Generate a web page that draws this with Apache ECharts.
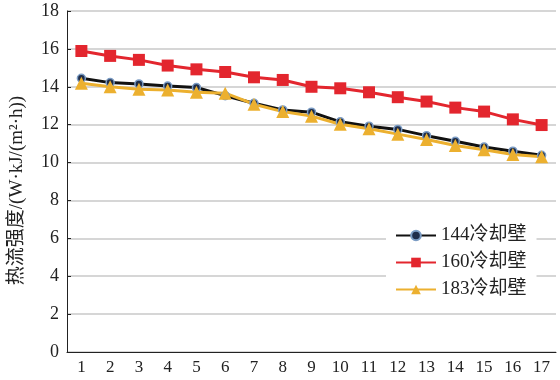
<!DOCTYPE html>
<html><head><meta charset="utf-8">
<script src="https://cdn.jsdelivr.net/npm/echarts@6/dist/echarts.min.js"></script>
<style>html,body{margin:0;padding:0;background:#fff}#c{width:560px;height:380px}</style>
</head><body><div id="c"></div>
<script>
const categories = ['1','2','3','4','5','6','7','8','9','10','11','12','13','14','15','16','17'];
const s144 = [14.45,14.22,14.15,14.04,13.96,13.53,13.13,12.78,12.66,12.15,11.92,11.75,11.42,11.12,10.82,10.6,10.38];
const s160 = [15.89,15.63,15.42,15.12,14.92,14.78,14.5,14.36,14.0,13.92,13.71,13.45,13.22,12.9,12.69,12.28,11.98];
const s183 = [14.19,14.0,13.87,13.83,13.71,13.66,13.08,12.69,12.45,12.02,11.78,11.5,11.22,10.9,10.68,10.42,10.31];
const names = ['144冷却壁','160冷却壁','183冷却壁'];
const font = '"Liberation Serif","Noto Sans CJK SC",serif';
const chart = echarts.init(document.getElementById('c'));
chart.setOption({
  animation:false,
  grid:{left:67,right:4,top:11,bottom:28},
  legend:{
    orient:'vertical', left:386, top:221, backgroundColor:'#fff', padding:[5,10,5,9],
    itemWidth:40, itemHeight:12, itemGap:8,
    textStyle:{fontFamily:font,fontSize:19,color:'#222'},
    data:names
  },
  xAxis:{
    type:'category', data:categories, boundaryGap:true,
    axisLine:{lineStyle:{color:'#222',width:1}},
    axisTick:{inside:true,alignWithLabel:true,length:4,lineStyle:{color:'#222'}},
    axisLabel:{fontFamily:font,fontSize:17,color:'#222',margin:7,interval:0}
  },
  yAxis:{
    type:'value', min:0, max:18, interval:2,
    name:'热流强度/(W·kJ/(m²·h))', nameLocation:'middle', nameGap:40, nameRotate:90,
    nameTextStyle:{fontFamily:font,fontSize:19,color:'#222',padding:[0,0,0,-18]},
    axisLine:{show:true,lineStyle:{color:'#222',width:1}},
    axisTick:{show:true,inside:true,length:4,lineStyle:{color:'#222'}},
    axisLabel:{fontFamily:font,fontSize:18,color:'#222',margin:8},
    splitLine:{lineStyle:{color:'#c8c8c8',width:1.5}}
  },
  series:[
    {name:names[0],type:'line',data:s144,symbol:'circle',symbolSize:8,
     lineStyle:{color:'#111',width:3},
     itemStyle:{color:'#1f2d4a',borderColor:'#7b9cc4',borderWidth:1.5}},
    {name:names[1],type:'line',data:s160,symbol:'rect',symbolSize:12,
     lineStyle:{color:'#e3262e',width:3},
     itemStyle:{color:'#e3262e'}},
    {name:names[2],type:'line',data:s183,symbol:'triangle',symbolSize:13,
     lineStyle:{color:'#ecb02f',width:3},
     itemStyle:{color:'#ecb02f'}}
  ]
});
</script></body></html>
